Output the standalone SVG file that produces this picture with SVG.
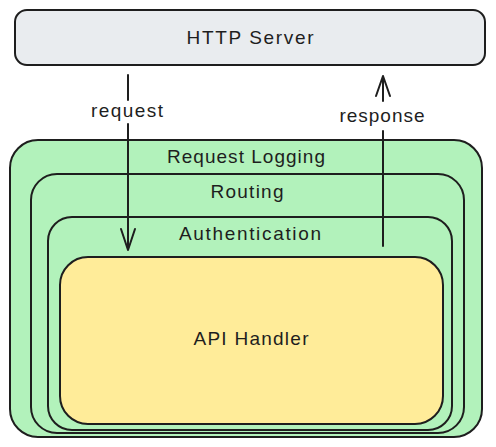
<svg xmlns="http://www.w3.org/2000/svg" width="496" height="447" viewBox="0 0 496 447">
<style>
.box{stroke:#1e1e1e;stroke-width:2;}
.t{font-family:"Liberation Sans","DejaVu Sans",sans-serif;font-size:19px;fill:#1e1e1e;text-anchor:middle;}
.c{stroke:#1e1e1e;stroke-width:2;fill:none;stroke-linecap:round;stroke-linejoin:round;}
</style>
<rect width="496" height="447" fill="#ffffff"/>
<g id="http-server">
<rect class="box" x="15" y="10" width="470" height="55" rx="12" fill="#e9ecef"/>
<text class="t" x="250" y="44" textLength="127" lengthAdjust="spacing">HTTP Server</text>
</g>
<g id="request-logging">
<rect class="box" x="10" y="140" width="472" height="297" rx="28" fill="#b2f2bb"/>
<text class="t" x="246" y="163" textLength="158" lengthAdjust="spacing">Request Logging</text>
</g>
<g id="routing">
<rect class="box" x="31" y="174" width="433" height="259" rx="26" fill="#b2f2bb"/>
<text class="t" x="247" y="198" textLength="73" lengthAdjust="spacing">Routing</text>
</g>
<g id="authentication">
<rect class="box" x="48" y="217" width="404" height="213" rx="24" fill="#b2f2bb"/>
<text class="t" x="250" y="240" textLength="142" lengthAdjust="spacing">Authentication</text>
</g>
<g id="api-handler">
<rect class="box" x="60" y="257" width="383" height="167" rx="28" fill="#ffec99"/>
<text class="t" x="251" y="345" textLength="115" lengthAdjust="spacing">API Handler</text>
</g>
<g id="connectors">
<g id="request">
<path class="c" d="M128 75 L128 100 M128 124 L128 250 M121 229 L128 250 L135 229"/>
<text class="t" x="127" y="117" textLength="72" lengthAdjust="spacing">request</text>
</g>
<g id="response">
<path class="c" d="M383 246 L383 131 M383 101 L383 76 M376 96 L383 76 L390 96"/>
<text class="t" x="382" y="122" textLength="85" lengthAdjust="spacing">response</text>
</g>
</g>
</svg>
